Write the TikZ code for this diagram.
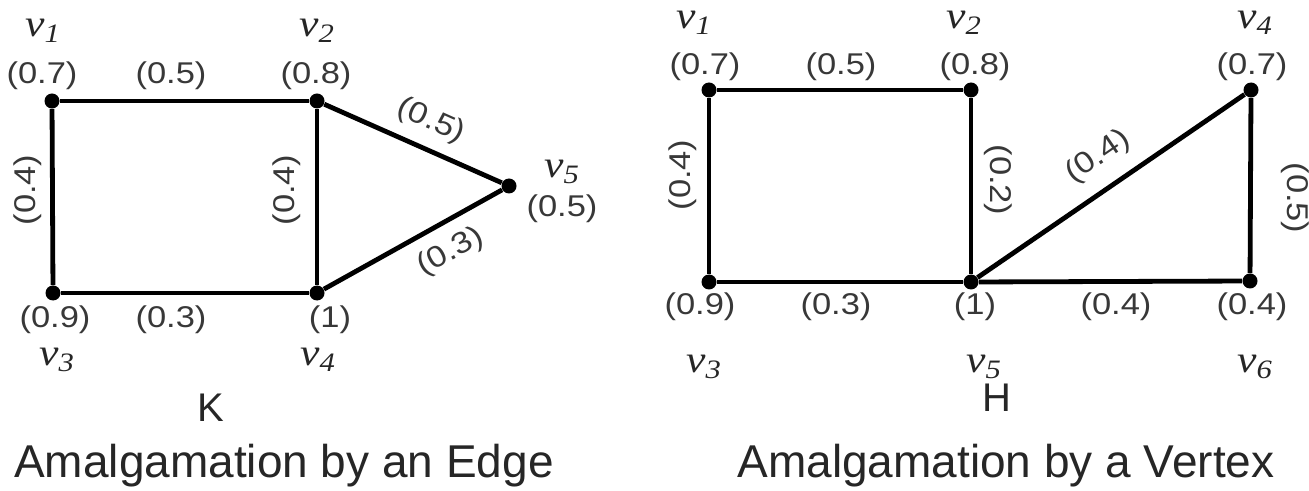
\documentclass[tikz,border=0pt]{standalone}
\usepackage{fontspec}
\setmainfont{Liberation Sans}
\newfontfamily\gewfont[FakeStretch=1.15]{Liberation Sans}
\newfontfamily\vnfont[FakeStretch=1.15]{Liberation Serif}
\usetikzlibrary{arrows}

\begin{document}
\begin{tikzpicture}[x=0.5pt, y=-0.5pt,
					punkt/.style={circle, fill=black, inner sep=0pt, minimum size=7.5pt},
					kante/.style={line width=2.4pt},
					gew/.style={text=black!78, font=\fontsize{15}{15}\selectfont\gewfont, inner sep=0pt},
					vname/.style={text=black!85, font=\fontsize{19}{19}\selectfont\vnfont\itshape, inner sep=0pt},
					titel/.style={text=black!85, font=\fontsize{23}{23}\selectfont, inner sep=0pt}]
					\useasboundingbox (0,0) rectangle (1309,491);
					%Knoten K
					\foreach \n/\x/\y in {k1/52/101, k2/317/101, k3/53/293, k4/317/293, k5/509/186}
						\node[punkt] (\n) at (\x,\y) {};
					%Knoten H
					\foreach \n/\x/\y in {h1/709/90, h2/971/90, h3/709/282, h5/971/282, h4/1251/90, h6/1250/281}
						\node[punkt] (\n) at (\x,\y) {};
					%Kanten K
					\draw[kante] (k1) -- (k2);
					\draw[kante] (k1) -- (k3);
					\draw[kante] (k2) -- (k4);
					\draw[kante] (k3) -- (k4);
					\draw[kante] (k2) -- (k5);
					\draw[kante] (k4) -- (k5);
					%Kanten H
					\draw[kante] (h1) -- (h2);
					\draw[kante] (h1) -- (h3);
					\draw[kante] (h2) -- (h5);
					\draw[kante] (h3) -- (h5);
					\draw[kante] (h5) -- (h4);
					\draw[kante] (h5) -- (h6);
					\draw[kante] (h4) -- (h6);
					%Beschriftung K
					\node[vname] (nk1) at (43,31) {v\textsubscript{1}};
					\node[vname] (nk2) at (317,31) {v\textsubscript{2}};
					\node[vname] (nk3) at (57,360) {v\textsubscript{3}};
					\node[vname] (nk4) at (318,360) {v\textsubscript{4}};
					\node[vname] (nk5) at (562,172) {v\textsubscript{5}};
					\node[gew] (gk1) at (42,76) {(0.7)};
					\node[gew] (gk2) at (316,76) {(0.8)};
					\node[gew] (gk3) at (55,320) {(0.9)};
					\node[gew] (gk4) at (330,320) {(1)};
					\node[gew] (gk5) at (562,209) {(0.5)};
					\node[gew] (gk12) at (171,76) {(0.5)};
					\node[gew] (gk34) at (171,320) {(0.3)};
					\node[gew, rotate=90] (gk13) at (28,190) {(0.4)};
					\node[gew, rotate=90] (gk24) at (287,190) {(0.4)};
					\node[gew, rotate=-24] (gk25) at (431,121) {(0.5)};
					\node[gew, rotate=29] (gk45) at (451,252) {(0.3)};
					%Beschriftung H
					\node[vname] (nh1) at (694,23) {v\textsubscript{1}};
					\node[vname] (nh2) at (964,23) {v\textsubscript{2}};
					\node[vname] (nh4) at (1255,23) {v\textsubscript{4}};
					\node[vname] (nh3) at (704,367) {v\textsubscript{3}};
					\node[vname] (nh5) at (984,367) {v\textsubscript{5}};
					\node[vname] (nh6) at (1255,367) {v\textsubscript{6}};
					\node[gew] (gh1) at (705,67) {(0.7)};
					\node[gew] (gh2) at (975,67) {(0.8)};
					\node[gew] (gh4) at (1252,67) {(0.7)};
					\node[gew] (gh3) at (700,307) {(0.9)};
					\node[gew] (gh5) at (975,307) {(1)};
					\node[gew] (gh6) at (1252,307) {(0.4)};
					\node[gew] (gh12) at (841,67) {(0.5)};
					\node[gew] (gh35) at (836,307) {(0.3)};
					\node[gew] (gh56) at (1116,307) {(0.4)};
					\node[gew, rotate=90] (gh13) at (683,175) {(0.4)};
					\node[gew, rotate=-90] (gh25) at (998,180) {(0.2)};
					\node[gew, rotate=34.5] (gh54) at (1098,157) {(0.4)};
					\node[gew, rotate=-90] (gh46) at (1295,198) {(0.5)};
					%Titel
					\node[titel, font=\fontsize{20}{20}\selectfont] (tk) at (211,408) {K};
					\node[titel, font=\fontsize{20}{20}\selectfont] (th) at (997,398) {H};
					\node[titel] (ak) at (284,466) {Amalgamation by an Edge};
					\node[titel] (ah) at (1006,466) {Amalgamation by a Vertex};
				\end{tikzpicture}
\end{document}
